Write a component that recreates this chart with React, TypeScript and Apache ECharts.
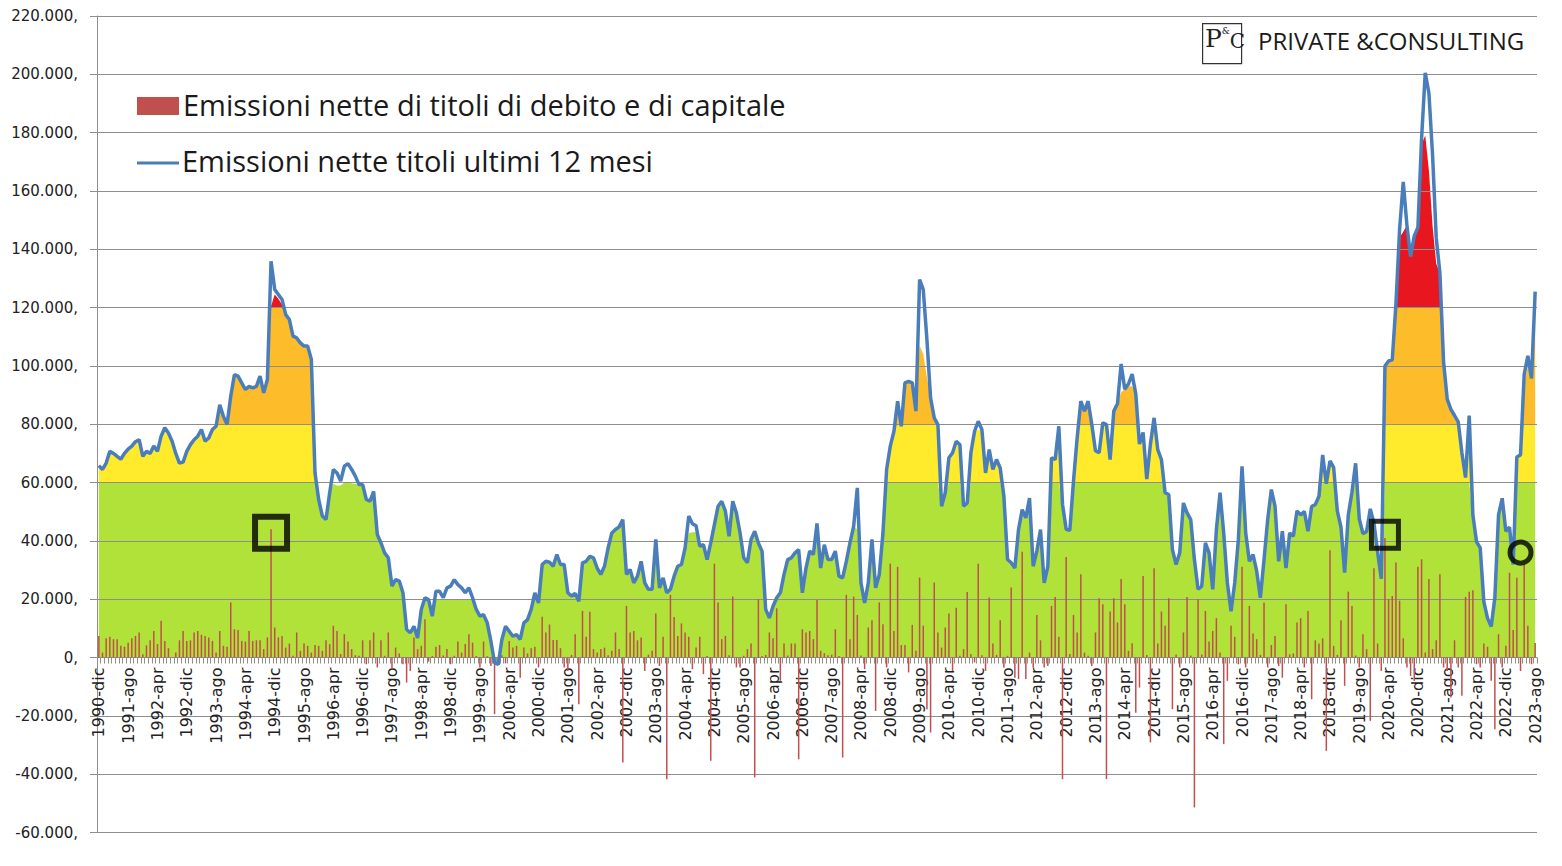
import React, { useEffect, useRef } from "react";
import * as echarts from "echarts";

// Mesi in italiano per le etichette dell'asse
const MESI = ["gen", "feb", "mar", "apr", "mag", "giu", "lug", "ago", "set", "ott", "nov", "dic"];
const START_YEAR = 1990;
const START_MONTH = 11; // dicembre

// Emissioni nette mensili di titoli di debito e di capitale (milioni di euro), dic 1990 - ago 2023
const NET_ISSUES = [
  7400, 1700, 6600, 7100, 6300, 6300, 4000, 3700, 5100, 6600, 7400, 8600,
  1100, 4200, 5900, 9100, 4600, 12600, 5700, 3200, 200, 1700, 5900, 9100,
  5700, 5900, 8600, 9100, 7800, 7400, 6900, 5700, 1700, 9100, 4000, 3700,
  18900, 9700, 9400, 5700, 5500, 9100, 5700, 5900, 5900, 2900, 6900, 44000,
  10300, 6900, 7400, 3400, 4800, 600, 8600, 2300, 4800, 4000, 1700, 4300,
  4000, 2300, 5900, 4600, 10900, 9100, 1200, 8000, 5500, 2900, 800, 600,
  5900, -2300, 5900, 8600, -3400, 5900, 600, 8600, -4000, 3400, 1400, -2300,
  -8600, -4600, 6900, 2900, 4000, 13100, -1400, 500, 3700, 4300, 700, 2900,
  -2300, 600, 5500, 1700, 4600, 8000, 5100, 500, -3400, 5500, 400, -2900,
  -19400, 300, 800, -2000, 5700, 3400, 4000, -6900, 3400, 1400, 3200, 3700,
  -3400, 14000, 8600, 11300, 6000, 6000, 3200, -3400, -4600, 900, 8000, -16000,
  16000, 7100, 15700, 2900, 1700, 2900, 3400, 800, 2300, 8600, 2900, -36000,
  17700, 8600, 9100, 5900, 6900, -4600, 1000, 2300, 15100, -2900, 7100, -41700,
  21500, 13900, 7400, 11700, 8600, 7100, -4000, 3400, 7100, -5700, 500, -35400,
  32200, 18900, 6300, 7400, 800, 20900, -3400, -3400, 600, 2900, 4800, -41100,
  20000, 500, 900, 8600, 6600, 16900, -8000, 4800, 700, 4800, 4800, -34900,
  9700, 8600, 9100, 6300, 19700, 2300, 1500, 800, 1000, 9700, 500, -34300,
  21500, 6300, 20900, 14600, 700, -4000, 10300, 12800, -18300, 18900, 11400, -3400,
  32200, 9100, 31100, 4300, 4300, -5100, 11200, 2300, 27400, 10900, -17700, -25700,
  25700, 8600, 3400, 10300, 15100, -4600, 17100, 600, 2900, 22500, 1200, -1700,
  32200, 800, -4600, 20600, 4800, 900, 12800, -3400, 600, 24000, -6900, -7400,
  36300, -7400, 1700, -3400, 14600, 5900, -3400, -2900, 17700, 20800, 7100, -41700,
  34500, 1200, 14600, 8600, 28600, 1700, 600, -2900, 8600, 20300, 18300, -41700,
  15800, 20300, 12000, 26900, 18300, 2300, 4900, -18900, -10300, 28000, 900, -29100,
  30600, 4800, 15800, 10900, 20300, -17700, 1000, -3400, 8600, 20800, 700, -51400,
  20000, 1000, 16000, 5500, 9100, 13500, 1700, -29700, -8000, 10900, 7100, -2300,
  31100, -3400, 17700, 8200, 6300, 900, 18900, -3400, 4300, 7400, -2900, -6900,
  18300, 1100, 1400, 12000, 13500, -3400, 16000, -14300, 5900, 4800, 6600, -32000,
  36800, 4000, 900, 12800, -9700, 22600, 17700, 700, -3400, 8000, 2900, -21700,
  30600, 4800, -4600, 41000, 20000, 21100, 32600, 19500, 6600, -3400, -6300, -8000,
  31100, 33700, 1700, 26900, 2900, 5900, 28600, -3400, -4600, -13700, 5900, -3400,
  -13100, 20800, 22600, 23100, -2300, -3400, 4800, 3700, -8000, -24600, 8000, -3400,
  4000, 29100, 9400, 27400, -4600, 32200, 10900, -2300, 5000,
];

// Emissioni nette titoli, somma degli ultimi 12 mesi
const ROLLING_12M = [
  65800, 64500, 66700, 70700, 70000, 69000, 68000, 70000, 71500, 72500, 74000, 74700,
  69000, 70700, 70000, 72500, 70700, 75900, 78800, 77000, 74200, 70000, 66700, 67000,
  70700, 73000, 74700, 75900, 78200, 74200, 75300, 78200, 79300, 86700, 82700, 79900,
  89600, 97000, 96500, 94200, 91900, 93000, 92500, 93000, 96500, 90800, 95300, 135900,
  126200, 124500, 122800, 117600, 115900, 110200, 109600, 107900, 106800, 106800, 102200, 63300,
  54200, 48500, 47300, 56500, 64500, 63300, 60500, 65600, 66500, 64500, 62200, 59300,
  59300, 54200, 53600, 57000, 42200, 39300, 35900, 34200, 24500, 26700, 26200, 22200,
  9600, 8500, 10700, 6700, 16500, 20500, 19900, 14200, 22700, 22700, 20500, 23900,
  24500, 26700, 25000, 23900, 22200, 23900, 20500, 16500, 14200, 14700, 11900, 5600,
  -1800, -2400, 6200, 10700, 9000, 7300, 7900, 6200, 11900, 13000, 16500, 22200,
  18700, 31900, 33000, 32700, 31300, 35300, 31900, 31900, 22200, 21100, 22000, 19300,
  32500, 33000, 34700, 34200, 30700, 28500, 31300, 37600, 42700, 43900, 44800, 47300,
  28500, 30200, 25600, 27900, 33000, 25600, 23400, 23400, 40500, 23900, 27300, 22200,
  23400, 27900, 31300, 31900, 37600, 48500, 45900, 45200, 38200, 38700, 33600, 39300,
  45600, 51900, 53600, 50200, 41600, 53600, 49600, 42700, 34200, 32500, 40500, 43300,
  39300, 36500, 16500, 13600, 17600, 20500, 22200, 28500, 33600, 34200, 35900, 37000,
  22200, 30700, 36500, 35300, 46000, 30700, 38700, 33600, 33600, 36500, 27900, 27300,
  33000, 39300, 45000, 58200, 25600, 18700, 25600, 40500, 23900, 28500, 42700, 64500,
  72500, 77600, 87900, 79300, 94200, 94700, 94200, 84500, 129600, 126200, 109000, 89000,
  82200, 79900, 51900, 56500, 68500, 70200, 74200, 73000, 51900, 53000, 70200, 77600,
  81000, 78200, 63300, 71300, 64500, 67900, 65000, 55400, 33600, 32500, 30700, 43900,
  50700, 47900, 54700, 31300, 36500, 43900, 25600, 31300, 68500, 67900, 79300, 52600,
  44000, 43600, 60500, 75300, 87900, 84500, 87900, 79900, 70900, 70200, 80500, 79900,
  67900, 84500, 87000, 100700, 92000, 93800, 97200, 90400, 73200, 77200, 61200, 73200,
  82200, 71300, 67900, 56500, 55900, 37000, 31900, 35900, 53000, 49600, 47300, 33600,
  23400, 24500, 39300, 35900, 23400, 43900, 56500, 42700, 25600, 15900, 25600, 40500,
  65600, 42700, 33000, 35300, 29600, 20500, 33600, 47300, 57600, 51900, 33000, 43300,
  30700, 42700, 41600, 50300, 48900, 50100, 43300, 51800, 52500, 55300, 69500, 59600,
  67400, 65200, 50300, 44700, 29100, 48900, 56700, 66600, 47500, 42500, 43200, 51000,
  46100, 36200, 27000, 100000, 101700, 102100, 121200, 146800, 163100, 148200, 137500, 144600,
  147500, 178000, 200500, 193600, 172300, 143900, 131900, 101400, 88600, 85100, 83000, 80800,
  70200, 61700, 83000, 48900, 39700, 37600, 19100, 13500, 10600, 20600, 48900, 54600,
  43300, 44700, 31900, 68800, 69500, 97000, 103500, 95700, 125500,
];

// Livello dell'area colorata nei mesi in cui si scosta dalla linea dei 12 mesi
const AREA_OVERRIDES: Record<string, number> = {
  "1994-nov": 120500, "1994-dic": 124500, "1995-gen": 123000, "1995-feb": 121000,
  "1996-apr": 59500, "1996-mag": 59000, "1996-giu": 59000, "1996-lug": 60000,
  "1996-ago": 60000, "1996-set": 59800, "1996-ott": 59500,
  "1998-ago": 20000, "1998-set": 20000, "1998-ott": 20000, "1998-nov": 20000,
  "1998-dic": 20000, "1999-gen": 20000, "1999-feb": 20000, "1999-mar": 20000,
  "1999-apr": 20000, "1999-mag": 20000, "1999-giu": 20000,
  "2004-mag": 42700, "2004-giu": 43000, "2004-lug": 43000,
  "2008-mar": 44000,
  "2009-ago": 107000, "2009-set": 104000, "2009-ott": 96000,
  "2010-dic": 78000,
  "2014-mar": 91000, "2014-mag": 93000, "2014-giu": 93000,
  "2020-lug": 144000, "2020-ago": 146000, "2021-gen": 176000, "2021-feb": 179000,
  "2021-mar": 167000, "2021-apr": 148000, "2021-mag": 135000,
  "2023-mag": 94000, "2023-giu": 100000, "2023-lug": 96000, "2023-ago": 117000,
};

// Soglie delle fasce di colore dell'area
const BAND_LIMITS = [60000, 80000, 120000];
const BAND_COLORS = ["#B0E23A", "#FFEA2C", "#FDBD2B", "#E8161F"];

// Punti evidenziati
const MARKERS = [
  { month: "1994-nov", value: 42800, shape: "rect", size: 32, border: 6 },
  { month: "2020-mar", value: 42100, shape: "rect", size: 27, border: 5 },
  { month: "2023-apr", value: 36000, shape: "circle", size: 21, border: 5 },
];

const Y_MIN = -60000;
const Y_MAX = 220000;
const Y_STEP = 20000;

const GRID_TOP = 16;
const GRID_BOTTOM = 33.5;
const CHART_H = 866;

const categories = ROLLING_12M.map((_, i) => {
  const m = START_MONTH + i;
  return `${START_YEAR + Math.floor(m / 12)}-${MESI[m % 12]}`;
});

const areaLevel = categories.map((c, i) =>
  AREA_OVERRIDES[c] !== undefined ? AREA_OVERRIDES[c] : ROLLING_12M[i]
);

const bands = [
  areaLevel.map((v) => (v < 0 ? v : Math.min(v, BAND_LIMITS[0]))),
  areaLevel.map((v) => Math.max(0, Math.min(v, BAND_LIMITS[1]) - BAND_LIMITS[0])),
  areaLevel.map((v) => Math.max(0, Math.min(v, BAND_LIMITS[2]) - BAND_LIMITS[1])),
  areaLevel.map((v) => Math.max(0, v - BAND_LIMITS[2])),
];

function formatIt(v: number): string {
  const s = Math.abs(v).toString().replace(/\B(?=(\d{3})+(?!\d))/g, ".");
  return (v < 0 ? "-" : "") + s + ",";
}

const GRID_COLOR = "#8E8E8E";

export default function App() {
  const ref = useRef<HTMLDivElement>(null);

  useEffect(() => {
    if (!ref.current) return;
    const chart = echarts.init(ref.current, undefined, { renderer: "svg" });

    // distanza tra il bordo inferiore della griglia e lo zero, per portare l'asse delle categorie sullo zero
    const plotH = CHART_H - GRID_TOP - GRID_BOTTOM;
    const zeroFromBottom = (plotH * (0 - Y_MIN)) / (Y_MAX - Y_MIN);

    const areaSeries = bands.map((data, k) => ({
      type: "line",
      name: `fascia${k}`,
      stack: "fasce",
      data,
      symbol: "none",
      showSymbol: false,
      lineStyle: { width: 0 },
      areaStyle: { color: BAND_COLORS[k], opacity: 1 },
      itemStyle: { color: BAND_COLORS[k] },
      z: 1,
      silent: true,
    }));

    chart.setOption({
      animation: false,
      backgroundColor: "#ffffff",
      grid: {
        left: 97,
        right: 25,
        top: GRID_TOP,
        bottom: GRID_BOTTOM,
        containLabel: false,
        outerBoundsMode: "none",
      },
      xAxis: {
        type: "category",
        data: categories,
        boundaryGap: true,
        position: "bottom",
        offset: -zeroFromBottom,
        z: 3,
        axisLine: { show: true, onZero: false, lineStyle: { color: GRID_COLOR, width: 1 } },
        axisTick: { show: true, interval: 0, length: 6, lineStyle: { color: GRID_COLOR } },
        axisLabel: {
          interval: 7,
          rotate: 90,
          margin: 10,
          fontSize: 16,
          fontFamily: "'DejaVu Sans', sans-serif",
          color: "#222",
        },
        splitLine: { show: false },
      },
      yAxis: {
        type: "value",
        min: Y_MIN,
        max: Y_MAX,
        interval: Y_STEP,
        z: 3,
        axisLine: { show: true, lineStyle: { color: GRID_COLOR, width: 1 } },
        axisTick: { show: true, length: 7, lineStyle: { color: GRID_COLOR } },
        axisLabel: {
          formatter: (v: number) => formatIt(v),
          fontSize: 15,
          fontFamily: "'DejaVu Sans', sans-serif",
          color: "#222",
          margin: 19,
        },
        splitLine: { show: true, lineStyle: { color: GRID_COLOR, width: 1 } },
      },
      series: [
        ...areaSeries,
        {
          type: "bar",
          name: "Emissioni nette di titoli di debito e di capitale",
          data: NET_ISSUES,
          barWidth: 1.5,
          itemStyle: { color: "#C0504D" },
          z: 4,
        },
        {
          type: "line",
          name: "Emissioni nette titoli ultimi 12 mesi",
          data: ROLLING_12M,
          symbol: "none",
          showSymbol: false,
          lineStyle: { color: "#4A7EBB", width: 3.5 },
          itemStyle: { color: "#4A7EBB" },
          z: 5,
        },
        ...MARKERS.map((m) => ({
          type: "scatter",
          data: [[m.month, m.value]],
          symbol: m.shape,
          symbolSize: m.size,
          itemStyle: { color: "rgba(0,0,0,0)", borderColor: "#000", borderWidth: m.border },
          z: 6,
          silent: true,
        })),
      ],
      graphic: [
        { type: "rect", left: 137, top: 97, shape: { width: 42, height: 18 }, style: { fill: "#C0504D" }, z: 10 },
        {
          type: "text", left: 183, top: 90, z: 10,
          style: { text: "Emissioni nette di titoli di debito e di capitale", fill: "#1a1a1a", font: "29px 'Open Sans', sans-serif" },
        },
        { type: "line", shape: { x1: 137, y1: 163, x2: 179, y2: 163 }, style: { stroke: "#4A7EBB", lineWidth: 3 }, z: 10 },
        {
          type: "text", left: 182, top: 146, z: 10,
          style: { text: "Emissioni nette titoli ultimi 12 mesi", fill: "#1a1a1a", font: "29px 'Open Sans', sans-serif" },
        },
        // marchio
        { type: "rect", left: 1202, top: 23, shape: { width: 39, height: 40 }, style: { fill: "#fff", stroke: "#333", lineWidth: 1.2 }, z: 10 },
        {
          type: "text", left: 1205, top: 26, z: 11,
          style: {
            text: "{p|P}{a|&}{c|C}",
            rich: {
              p: { fontSize: 25, fontFamily: "'DejaVu Serif', serif", fill: "#222", verticalAlign: "bottom" },
              a: { fontSize: 9, fontFamily: "'DejaVu Serif', serif", fill: "#222", verticalAlign: "top" },
              c: { fontSize: 20, fontFamily: "'DejaVu Serif', serif", fill: "#222", verticalAlign: "bottom" },
            },
          },
        },
        {
          type: "text", left: 1258, top: 28, z: 10,
          style: { text: "PRIVATE &CONSULTING", fill: "#1a1a1a", font: "24px 'Open Sans', sans-serif" },
        },
      ],
    });

    return () => chart.dispose();
  }, []);

  return (
    <div
      ref={ref}
      style={{ position: "absolute", left: 0, top: 0, width: 1562, height: CHART_H }}
    />
  );
}
